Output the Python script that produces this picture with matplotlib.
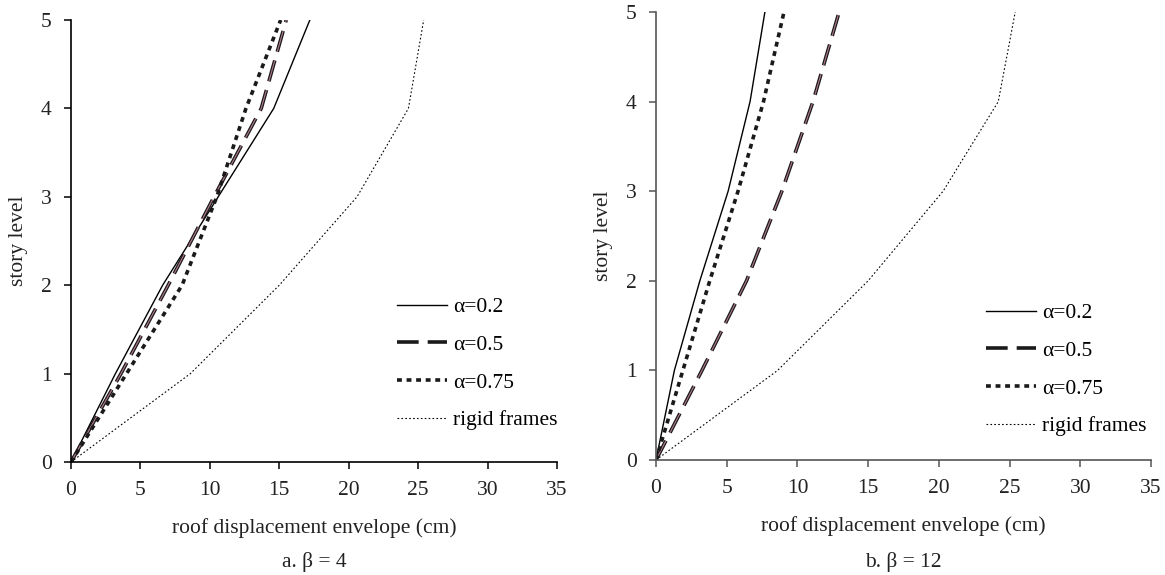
import numpy as np
import matplotlib.pyplot as plt

plt.rcParams['font.family'] = ['Liberation Serif', 'DejaVu Serif']
plt.rcParams['font.size'] = 15.5

story = [0, 1, 2, 3, 4, 5]

# beta = 4
a_02 = [0, 3.2, 6.6, 10.6, 14.6, 17.2]
a_05 = [0, 3.6, 7.0, 10.3, 13.7, 15.5]
a_075 = [0, 4.0, 8.0, 10.5, 12.6, 15.1]
rigid = [0, 8.6, 15.0, 20.6, 24.3, 25.4]

# beta = 12
b_02 = [0, 1.3, 3.1, 5.1, 6.65, 7.7]
b_05 = [0, 3.25, 6.4, 8.9, 11.1, 12.95]
b_075 = [0, 1.9, 3.8, 5.8, 7.6, 9.05]
rigid_b = [0, 8.6, 15.0, 20.3, 24.2, 25.4]

labels = ['\u03b1=0.2', '\u03b1=0.5', '\u03b1=0.75', 'rigid frames']
captions = ['a. \u03b2 = 4', 'b. \u03b2 = 12']
FS = 15.5


def panel(ax, s02, s05, s075, srig, caption, spine_col, leg_xy):
    l1, = ax.plot(s02, story, color='black', lw=1.0, label=labels[0])
    l2, = ax.plot(s05, story, color='#1a1a1a', lw=2.6, dashes=(6, 2.5), label=labels[1])
    # thin pink core inside the dashed line
    ax.plot(s05, story, color='#b07a90', lw=0.8, dashes=(6 * 2.6 / 0.8, 2.5 * 2.6 / 0.8))
    l3, = ax.plot(s075, story, color='#1a1a1a', lw=2.6, dashes=(1.35, 1.3), label=labels[2])
    l4, = ax.plot(srig, story, color='black', lw=0.8, dashes=(1.5, 2.0), label=labels[3])

    ax.set_xlim(0, 35)
    ax.set_ylim(0, 5)
    ax.set_xticks(range(0, 36, 5))
    ax.set_yticks(range(0, 6))
    for s in ['top', 'right']:
        ax.spines[s].set_visible(False)
    for s in ['left', 'bottom']:
        ax.spines[s].set_color(spine_col)
        ax.spines[s].set_linewidth(1.2)
    ax.tick_params(direction='out', length=5, width=1.1, color=spine_col,
                   labelcolor='#222222', labelsize=FS, pad=9)
    ax.set_xlabel('roof displacement envelope (cm)', fontsize=FS, color='#222222', labelpad=13)
    ax.set_ylabel('story level', fontsize=FS, color='#222222', labelpad=9)
    pos = ax.get_position()
    fig.text((pos.x0 + pos.x1) / 2, 1 - 562 / 575, caption, ha='center', va='center',
             fontsize=FS, color='#222222')
    ax.legend(handles=[l1, l2, l3, l4], loc='upper left', frameon=False,
              bbox_to_anchor=leg_xy, bbox_transform=fig.transFigure,
              handlelength=2.3, handletextpad=0.3, labelspacing=0.82,
              borderaxespad=0, borderpad=0, fontsize=FS)


fig = plt.figure(figsize=(11.65, 5.75), dpi=100)
ax1 = fig.add_axes([71 / 1165, 1 - 462 / 575, (557 - 71) / 1165, (462 - 20) / 575])
ax2 = fig.add_axes([656 / 1165, 1 - 460 / 575, (1151 - 656) / 1165, (460 - 12) / 575])

panel(ax1, a_02, a_05, a_075, rigid, captions[0], 'black', (397 / 1165, 1 - 297 / 575))
panel(ax2, b_02, b_05, b_075, rigid_b, captions[1], '#555555', (986 / 1165, 1 - 303 / 575))

fig.savefig('out.png', dpi=100)
